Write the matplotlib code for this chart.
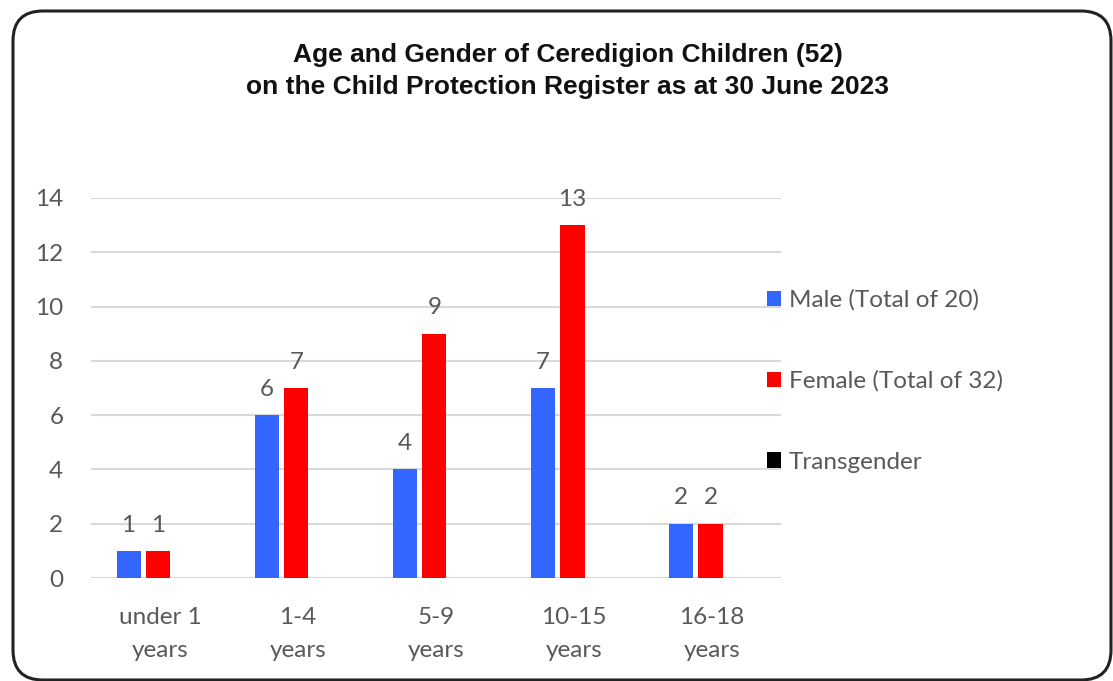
import matplotlib.pyplot as plt
from matplotlib.patches import FancyBboxPatch
import numpy as np

# Chart data
categories = ["under 1\nyears", "1-4\nyears", "5-9\nyears", "10-15\nyears", "16-18\nyears"]
male = [1, 6, 4, 7, 2]
female = [1, 7, 9, 13, 2]
transgender = [0, 0, 0, 0, 0]
series_names = ["Male (Total of 20)", "Female (Total of 32)", "Transgender"]
colours = ["#3366ff", "#ff0000", "#000000"]
title = "Age and Gender of Ceredigion Children (52)\non the Child Protection Register as at 30 June 2023"

grey = "#595959"
font = ["Lato", "DejaVu Sans"]
fs = 17.5

fig = plt.figure(figsize=(11.13, 6.81), dpi=100)

# rounded border, drawn in pixel units on a background axes
bg = fig.add_axes([0, 0, 1, 1])
bg.set_xlim(0, 1113)
bg.set_ylim(681, 0)
bg.axis("off")
bg.add_patch(FancyBboxPatch((13, 11), 1098, 669, boxstyle="round,pad=0,rounding_size=30",
                            fill=False, edgecolor="#222222", linewidth=2.2))
bg.text(568, 71, title, ha="center", va="center", fontsize=19, fontweight="bold",
        family=["Liberation Sans", "DejaVu Sans"], linespacing=1.45, color="#111111")

ax = fig.add_axes([0.0818, 0.1512, 0.62, 0.5581])
x = np.arange(len(categories))
width = 0.175
step = 0.216
for i, (vals, name, col) in enumerate(zip([male, female, transgender], series_names, colours)):
    bars = ax.bar(x + (i - 1) * step - 0.012, vals, width, color=col, label=name, linewidth=0)
    for b, v in zip(bars, vals):
        if v > 0:
            ax.annotate(str(v), (b.get_x() + b.get_width() / 2, v), xytext=(0, 11),
                        textcoords="offset points", ha="center", va="bottom",
                        fontsize=fs, color=grey, family=font)

ax.set_xlim(-0.5, len(categories) - 0.5)
ax.set_ylim(0, 14)
ax.set_yticks(range(0, 15, 2))
ax.set_xticks(x)
ax.set_xticklabels(categories, linespacing=1.72)
for s in ax.spines.values():
    s.set_visible(False)
ax.grid(axis="y", color="#d9d9d9", linewidth=1.5)
ax.set_axisbelow(True)
ax.tick_params(axis="both", length=0, labelsize=fs, labelcolor=grey)
ax.tick_params(axis="y", pad=20)
ax.tick_params(axis="x", pad=21)
for lbl in ax.get_xticklabels() + ax.get_yticklabels():
    lbl.set_family(font)

ax.legend(loc="upper left", bbox_to_anchor=(0.965, 0.785), frameon=False,
          prop={"family": font, "size": fs}, labelcolor=grey,
          handlelength=0.6, handleheight=0.6, handletextpad=0.3,
          labelspacing=2.45, borderaxespad=0)

fig.savefig("out.png", dpi=100)
